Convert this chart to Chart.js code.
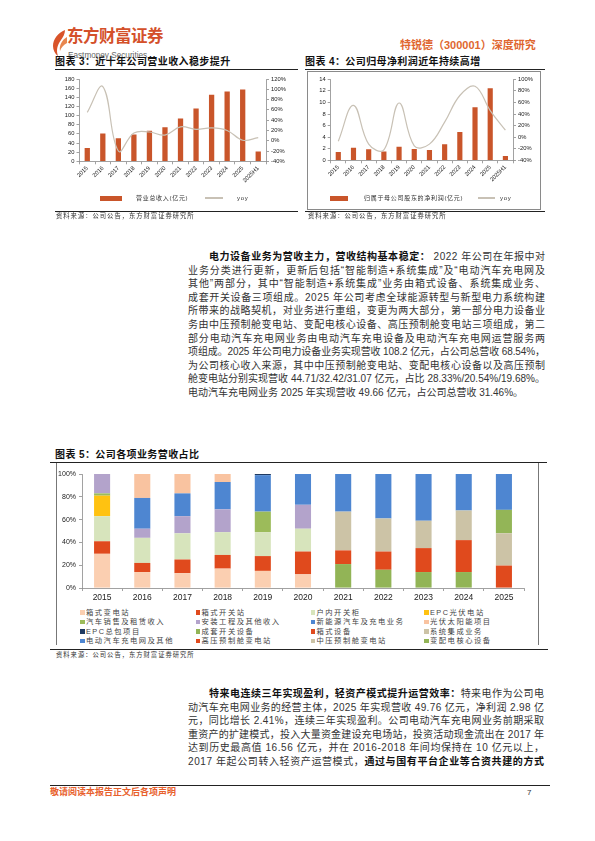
<!DOCTYPE html>
<html><head><meta charset="utf-8">
<script src="https://cdn.jsdelivr.net/npm/chart.js@4.4.1/dist/chart.umd.min.js"></script>
<style>
html,body{margin:0;padding:0;background:#fff;}
body{width:595px;height:841px;position:relative;overflow:hidden;font-family:"Liberation Sans","Noto Sans CJK SC",sans-serif;color:#222;}
.ttl{position:absolute;font-size:10px;font-weight:bold;color:#111;white-space:nowrap;letter-spacing:0.4px;line-height:12px;}
.hl{position:absolute;height:0;border-top:1px solid #222;}
.vl{position:absolute;width:0;border-left:1px solid #777;}
.src{position:absolute;font-size:6.3px;color:#333;white-space:nowrap;letter-spacing:1px;line-height:8px;}
.para{position:absolute;font-size:10px;line-height:13.6px;color:#333;}
.para div{white-space:nowrap;}
.para div.first{margin-left:21px;}
.para b{color:#111;font-weight:bold;}
.wrap{position:absolute;}
.lg{position:absolute;font-size:6px;color:#333;white-space:nowrap;letter-spacing:0.7px;line-height:8px;}
.sw{position:absolute;}
.lg5{position:absolute;font-size:7.3px;color:#444;white-space:nowrap;letter-spacing:1.5px;line-height:9px;}
</style></head>
<body>
<!-- header -->
<svg style="position:absolute;left:50px;top:29px" width="18" height="28" viewBox="0 0 18 28">
  <path d="M15 1 C8 4 3 10 3 17 C3 21 5 25 8 27 C6 22 7 16 11 11 C13 8 15 5 15 1 Z" fill="#D9542A"/>
  <path d="M17 8 C12 11 9 16 10 22 C11 19 13 16 17 14 Z" fill="#E8874F"/>
</svg>
<div style="position:absolute;left:67px;top:26px;font-size:16.5px;font-weight:bold;color:#D4502A;letter-spacing:-0.5px;white-space:nowrap;line-height:20px;">东方财富证券</div>
<div style="position:absolute;left:68px;top:50.5px;font-size:8.2px;color:#666;white-space:nowrap;line-height:9px;">Eastmoney Securities</div>
<div style="position:absolute;left:400px;top:39px;font-size:11px;font-weight:bold;color:#E0662F;white-space:nowrap;line-height:13px;">特锐德（300001）深度研究</div>

<!-- chart 3 -->
<div class="ttl" style="left:55px;top:56px;">图表 3：近十年公司营业收入稳步提升</div>
<div class="hl" style="left:55px;top:69px;width:243px;"></div>
<div class="wrap" style="left:55px;top:70px;width:243px;height:125px;"><canvas id="c3"></canvas></div>
<div id="lg3"></div>
<div class="hl" style="left:55px;top:211px;width:243px;"></div>
<div class="src" style="left:56px;top:212px;">资料来源：公司公告，东方财富证券研究所</div>

<!-- chart 4 -->
<div class="ttl" style="left:305px;top:56px;">图表 4：公司归母净利润近年持续高增</div>
<div class="hl" style="left:305px;top:69px;width:240px;"></div>
<div style="position:absolute;left:307px;top:71px;width:232px;height:137px;border:1px solid #8a8a8a;"></div>
<div class="wrap" style="left:308px;top:73px;width:231px;height:120px;"><canvas id="c4"></canvas></div>
<div id="lg4"></div>
<div class="hl" style="left:305px;top:211px;width:240px;"></div>
<div class="src" style="left:308px;top:212px;">资料来源：公司公告，东方财富证券研究所</div>

<!-- paragraph 1 -->
<div class="para" id="p1" style="left:188px;top:250px;width:357px;">
<div class="j first"><b>电力设备业务为营收主力，营收结构基本稳定：</b> 2022 年公司在年报中对</div>
<div class="j">业务分类进行更新，更新后包括“智能制造+系统集成”及“电动汽车充电网及</div>
<div class="j">其他”两部分，其中“智能制造+系统集成”业务由箱式设备、系统集成业务、</div>
<div class="j">成套开关设备三项组成。2025 年公司考虑全球能源转型与新型电力系统构建</div>
<div class="j">所带来的战略契机，对业务进行重组，变更为两大部分，第一部分电力设备业</div>
<div class="j">务由中压预制舱变电站、变配电核心设备、高压预制舱变电站三项组成，第二</div>
<div class="j">部分电动汽车充电网业务由电动汽车充电设备及电动汽车充电网运营服务两</div>
<div class="j">项组成。2025 年公司电力设备业务实现营收 108.2 亿元，占公司总营收 68.54%，</div>
<div class="j">为公司核心收入来源，其中中压预制舱变电站、变配电核心设备以及高压预制</div>
<div class="j">舱变电站分别实现营收 44.71/32.42/31.07 亿元，占比 28.33%/20.54%/19.68%。</div>
<div>电动汽车充电网业务 2025 年实现营收 49.66 亿元，占公司总营收 31.46%。</div>
</div>

<!-- chart 5 -->
<div class="ttl" style="left:55px;top:449px;">图表 5：公司各项业务营收占比</div>
<div class="hl" style="left:50px;top:462px;width:497px;"></div>
<div class="vl" style="left:56px;top:463px;height:182px;"></div>
<div class="vl" style="left:538px;top:463px;height:182px;"></div>
<div class="wrap" style="left:57px;top:464px;width:480px;height:143px;"><canvas id="c5"></canvas></div>
<div id="lg5"></div>
<div class="hl" style="left:50px;top:649px;width:498px;"></div>
<div class="src" style="left:56px;top:651px;">资料来源：公司公告，东方财富证券研究所</div>

<!-- paragraph 2 -->
<div class="para" id="p2" style="left:188px;top:687px;width:356px;">
<div class="j first"><b>特来电连续三年实现盈利，轻资产模式提升运营效率：</b>特来电作为公司电</div>
<div class="j">动汽车充电网业务的经营主体，2025 年实现营收 49.76 亿元，净利润 2.98 亿</div>
<div class="j">元，同比增长 2.41%，连续三年实现盈利。公司电动汽车充电网业务前期采取</div>
<div class="j">重资产的扩建模式，投入大量资金建设充电场站，投资活动现金流出在 2017 年</div>
<div class="j">达到历史最高值 16.56 亿元，并在 2016-2018 年间均保持在 10 亿元以上，</div>
<div class="j">2017 年起公司转入轻资产运营模式，<b>通过与国有平台企业等合资共建的方式</b></div>
</div>

<!-- footer -->
<div class="hl" style="left:50px;top:785px;width:500px;"></div>
<div style="position:absolute;left:50px;top:787px;font-size:9px;font-weight:bold;color:#E8602C;white-space:nowrap;line-height:11px;">敬请阅读本报告正文后各项声明</div>
<div style="position:absolute;left:527px;top:787px;font-size:8px;color:#333;line-height:11px;">7</div>

<script>
// ---------- data ----------
const years12 = ['2015','2016','2017','2018','2019','2020','2021','2022','2023','2024','2025','2025H1'];
const revenue = [29.3,60.7,50.5,58.5,66.6,74.6,93.6,115.6,145.6,152.9,157.3,21.2];
const revenueYoy = [55,105,-20,15,17,11,27,22,25,20,1,6];
const netProfit = [1.44,2.19,1.9,1.5,2.36,1.96,1.79,2.76,4.9,9.16,12.44,0.75];
const netProfitYoy = [-7,55,-12,-22,59,-15,-12,26,72,88,46,12];
const revenueLabel = '营业总收入(亿元)';
const profitLabel = '归属于母公司股东的净利润(亿元)';
const yoyLabel = 'yoy';
// tick values
const revenueTicks = [0,20,40,60,80,100,120,140,160,180];
const revenueYoyTicks = [-40,-20,0,20,40,60,80,100,120];
const profitTicks = [0,2,4,6,8,10,12,14];
const profitYoyTicks = [-40,-20,0,20,40,60,80,100];
const shareTicks = [0,20,40,60,80,100];

const years11 = ['2015','2016','2017','2018','2019','2020','2021','2022','2023','2024','2025'];
// segment shares (%), stacking order bottom -> top
const s_xsbdz   = [30,14,13,17,15,12,null,null,null,null,null];   // 箱式变电站
const s_xskgz   = [11,8,12,12,13,20,null,null,null,null,null];    // 箱式开关站
const s_hnkgg   = [22,22,23,20,21,20,null,null,null,null,null];   // 户内开关柜
const s_epcgf   = [18,null,null,null,null,null,null,null,null,null,null]; // EPC光伏电站
const s_qcxs    = [2,null,null,null,18,null,null,null,null,null,null];    // 汽车销售及租赁收入
const s_azgc    = [17,8,15,20,null,21,null,null,null,null,null];  // 安装工程及其他收入
const s_xnyqc   = [null,27,20,24,32,27,null,null,null,null,null]; // 新能源汽车及充电业务
const s_gftyn   = [null,21,17,7,null,null,null,null,null,null,null]; // 光伏太阳能项目
const s_epczb   = [null,null,null,null,1,null,null,null,null,null,null]; // EPC总包项目
const s_ctkg    = [null,null,null,null,null,null,21,16,14,14,null]; // 成套开关设备
const s_xssb    = [null,null,null,null,null,null,12,16,21,28,null]; // 箱式设备
const s_xtjc    = [null,null,null,null,null,null,34,29,24,26,null]; // 系统集成业务
const s_gyyz    = [null,null,null,null,null,null,null,null,null,null,19.68]; // 高压预制舱变电站
const s_zyyz    = [null,null,null,null,null,null,null,null,null,null,28.33]; // 中压预制舱变电站
const s_bpd     = [null,null,null,null,null,null,null,null,null,null,20.54]; // 变配电核心设备
const s_ddqc    = [null,null,null,null,null,null,33,39,41,32,31.46]; // 电动汽车充电网及其他

const segNames = ['箱式变电站','箱式开关站','户内开关柜','EPC光伏电站','汽车销售及租赁收入','安装工程及其他收入','新能源汽车及充电业务','光伏太阳能项目','EPC总包项目','成套开关设备','箱式设备','系统集成业务','高压预制舱变电站','中压预制舱变电站','变配电核心设备','电动汽车充电网及其他'];
const segData = [s_xsbdz,s_xskgz,s_hnkgg,s_epcgf,s_qcxs,s_azgc,s_xnyqc,s_gftyn,s_epczb,s_ctkg,s_xssb,s_xtjc,s_gyyz,s_zyyz,s_bpd,s_ddqc];
const segColors = ['#FBCFB1','#E04A1D','#D7E4BC','#FFC211','#9CBB5A','#B3A3CB','#4E86D1','#F9C3A0','#1F3A62','#92B456','#E04A1D','#CCC3A6','#E04A1D','#CCC3A6','#93B557','#4E86D1'];
const legendOrder = ['箱式变电站','箱式开关站','户内开关柜','EPC光伏电站','汽车销售及租赁收入','安装工程及其他收入','新能源汽车及充电业务','光伏太阳能项目','EPC总包项目','成套开关设备','箱式设备','系统集成业务','电动汽车充电网及其他','高压预制舱变电站','中压预制舱变电站','变配电核心设备'];

// ---------- helpers ----------
const AX = '#8a8a8a';
function axis(){
  return {
    grid:{display:true,drawOnChartArea:false,drawTicks:true,tickLength:3,color:AX,lineWidth:0.8},
    border:{display:true,color:AX,width:0.8}
  };
}
const tickFont = size => ({family:'Liberation Sans',size:size,lineHeight:1});
const setTicks = arr => (s => { s.ticks = arr.map(v => ({value:v})); });
const barColor = '#C9552A';
const lineColor = '#C8C1B5';

function comboChart(id, bars, yoy, barLbl, yTicks, y1Ticks, fit){
  return new Chart(document.getElementById(id), {
    type:'bar',
    data:{labels:years12, datasets:[
      {type:'line', label:yoyLabel, data:yoy, yAxisID:'y1', borderColor:lineColor, borderWidth:1.2, tension:0.4, pointRadius:0, order:0},
      {type:'bar', label:barLbl, data:bars, yAxisID:'y', backgroundColor:barColor, barPercentage:0.34, categoryPercentage:1, order:1}
    ]},
    options:{
      responsive:true, maintainAspectRatio:false, animation:false,
      layout:{padding:{top:fit.top,left:0,right:0,bottom:0}},
      plugins:{legend:{display:false},tooltip:{enabled:false}},
      scales:{
        x:Object.assign(axis(),{
          ticks:{color:'#222',font:tickFont(5.8),maxRotation:45,minRotation:45,autoSkip:false,padding:1},
          afterFit:s=>{s.height=fit.xh;}
        }),
        y:Object.assign(axis(),{position:'left',min:yTicks[0],max:yTicks[yTicks.length-1],
          ticks:{color:'#222',font:tickFont(5.8),autoSkip:false,autoSkipPadding:0,padding:2},
          afterBuildTicks:setTicks(yTicks),
          afterFit:s=>{s.width=fit.yl;}}),
        y1:Object.assign(axis(),{position:'right',min:y1Ticks[0],max:y1Ticks[y1Ticks.length-1],
          ticks:{color:'#222',font:tickFont(5.8),autoSkip:false,autoSkipPadding:0,padding:2,callback:v=>v+'%'},
          afterBuildTicks:setTicks(y1Ticks),
          afterFit:s=>{s.width=fit.yr;}})
      }
    }
  });
}

const c3 = comboChart('c3', revenue, revenueYoy, revenueLabel, revenueTicks, revenueYoyTicks, {top:9,xh:33.7,yl:24.5,yr:32});
const c4 = comboChart('c4', netProfit, netProfitYoy, profitLabel, profitTicks, profitYoyTicks, {top:6.3,xh:32.7,yl:22.7,yr:26});

function comboLegend(el, chart, pos){
  const ds = chart.data.datasets;
  const bar = ds.find(d=>d.type==='bar'), line = ds.find(d=>d.type==='line');
  el.innerHTML =
    `<div class="sw" style="left:${pos.b}px;top:${pos.y-2.5}px;width:${pos.bw}px;height:5px;background:${bar.backgroundColor}"></div>`+
    `<div class="lg" style="left:${pos.bt}px;top:${pos.y-4}px;">${bar.label}</div>`+
    `<div class="sw" style="left:${pos.l}px;top:${pos.y-0.6}px;width:${pos.lw}px;height:1.2px;background:${line.borderColor}"></div>`+
    `<div class="lg" style="left:${pos.lt}px;top:${pos.y-4}px;">${line.label}</div>`;
}
comboLegend(document.getElementById('lg3'), c3, {y:198, b:100, bw:22, bt:136, l:205, lw:18, lt:237});
comboLegend(document.getElementById('lg4'), c4, {y:198, b:330, bw:18, bt:364, l:478, lw:17, lt:500});

// ---------- chart 5 ----------
const c5 = new Chart(document.getElementById('c5'), {
  type:'bar',
  data:{labels:years11, datasets: segNames.map((n,i)=>({label:n, data:segData[i], backgroundColor:segColors[i], barPercentage:0.4, categoryPercentage:1}))},
  options:{
    responsive:true, maintainAspectRatio:false, animation:false,
    layout:{padding:{top:10,left:0,right:13,bottom:0}},
    plugins:{legend:{display:false},tooltip:{enabled:false}},
    scales:{
      x:Object.assign(axis(),{stacked:true,
        ticks:{color:'#222',font:{family:'Liberation Sans',size:8.5},padding:2,maxRotation:0,autoSkip:false},
        afterFit:s=>{s.height=19;}}),
      y:Object.assign(axis(),{stacked:true,min:0,max:100,
        ticks:{color:'#222',font:{family:'Liberation Sans',size:7},autoSkip:false,padding:3,callback:v=>v+'%'},
        afterBuildTicks:setTicks(shareTicks),
        afterFit:s=>{s.width=25;}})
    }
  }
});
(function(){
  const el = document.getElementById('lg5');
  const cols = [80,195.5,310.5,424];
  const rows = [612.3,621.8,631.2,640.7];
  let h = '';
  legendOrder.forEach((n,k)=>{
    const i = segNames.indexOf(n);
    const ds = c5.data.datasets[i];
    const x = cols[k%4], y = rows[Math.floor(k/4)];
    h += `<div class="sw" style="left:${x}px;top:${y-2.2}px;width:4.5px;height:4.5px;background:${ds.backgroundColor}"></div>`;
    h += `<div class="lg5" style="left:${x+6}px;top:${y-4.6}px;">${ds.label}</div>`;
  });
  el.innerHTML = h;
})();

// ---------- justify text lines ----------
function justify(){
  document.querySelectorAll('.para .j').forEach(el=>{
    el.style.letterSpacing = '0px';
    if(!el.firstElementChild || !el.firstElementChild.classList.contains('m')){
      el.innerHTML = '<span class="m">'+el.innerHTML+'</span>';
    }
    const w = el.firstElementChild.getBoundingClientRect().width;
    const target = el.clientWidth;
    const n = el.textContent.length;
    if(n>1) el.style.letterSpacing = ((target - w)/(n-1))+'px';
  });
}
justify();
if(document.fonts && document.fonts.ready) document.fonts.ready.then(justify);
</script>
</body></html>
